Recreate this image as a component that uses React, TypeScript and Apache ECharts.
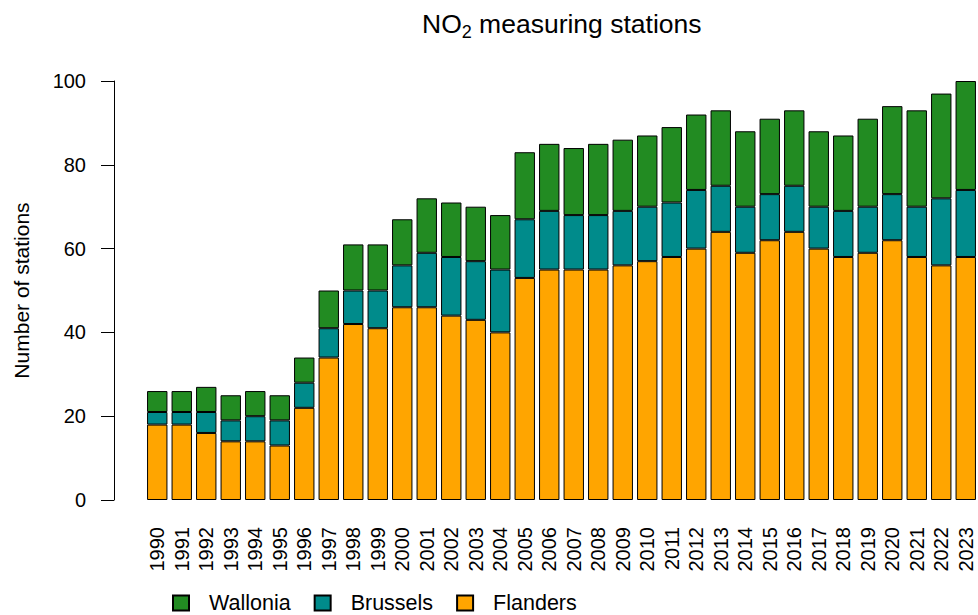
import React, { useEffect, useRef } from "react";
import * as echarts from "echarts";

const years = [
  "1990", "1991", "1992", "1993", "1994", "1995", "1996", "1997", "1998", "1999",
  "2000", "2001", "2002", "2003", "2004", "2005", "2006", "2007", "2008", "2009",
  "2010", "2011", "2012", "2013", "2014", "2015", "2016", "2017", "2018", "2019",
  "2020", "2021", "2022", "2023",
];
const flanders = [18, 18, 16, 14, 14, 13, 22, 34, 42, 41, 46, 46, 44, 43, 40, 53, 55, 55, 55, 56, 57, 58, 60, 64, 59, 62, 64, 60, 58, 59, 62, 58, 56, 58];
const brussels = [3, 3, 5, 5, 6, 6, 6, 7, 8, 9, 10, 13, 14, 14, 15, 14, 14, 13, 13, 13, 13, 13, 14, 11, 11, 11, 11, 10, 11, 11, 11, 12, 16, 16];
const wallonia = [5, 5, 6, 6, 6, 6, 6, 9, 11, 11, 11, 13, 13, 13, 13, 16, 16, 16, 17, 17, 17, 18, 18, 18, 18, 18, 18, 18, 18, 21, 21, 23, 25, 26];
const yTicks = { min: 0, max: 100, interval: 20 };

const FONT = "'Liberation Sans', Arial, sans-serif";

export default function App() {
  const ref = useRef<HTMLDivElement>(null);
  useEffect(() => {
    if (!ref.current) return;
    const chart = echarts.init(ref.current, null, { renderer: "svg" });
    const barStyle = (color: string) => ({
      color,
      borderColor: "#000",
      borderWidth: 1,
    });
    chart.setOption({
      animation: false,
      backgroundColor: "#fff",
      textStyle: { fontFamily: FONT, color: "#000" },
      title: {
        text: "NO{sub|2} measuring stations",
        left: 422,
        top: 7,
        padding: 0,
        textStyle: {
          fontFamily: FONT,
          fontWeight: "normal",
          fontSize: 26.5,
          lineHeight: 34,
          color: "#000",
          rich: {
            sub: { fontSize: 18, lineHeight: 18, verticalAlign: "bottom", fontFamily: FONT, color: "#000" },
          },
        },
      },
      legend: {
        data: ["Wallonia", "Brussels", "Flanders"],
        left: 172,
        top: 592,
        padding: 0,
        itemWidth: 16,
        itemHeight: 15,
        itemGap: 23,
        icon: "rect",
        textStyle: { fontFamily: FONT, fontSize: 21.5, lineHeight: 22, color: "#000", padding: [0, 0, 0, 15] },
      },
      grid: { left: 145, right: 0, top: 81, bottom: 115, containLabel: false },
      xAxis: {
        type: "category",
        data: years,
        axisLine: { show: false },
        axisTick: { show: false },
        axisLabel: { rotate: 90, margin: 27, fontSize: 20, color: "#000", fontFamily: FONT, interval: 0 },
      },
      yAxis: {
        type: "value",
        min: yTicks.min,
        max: yTicks.max,
        interval: yTicks.interval,
        offset: 31,
        name: "Number of stations",
        nameLocation: "middle",
        nameRotate: 90,
        nameGap: 82,
        nameTextStyle: { fontFamily: FONT, fontSize: 21, color: "#000" },
        axisLine: { show: true, lineStyle: { color: "#000", width: 1 } },
        axisTick: { show: true, length: 13, lineStyle: { color: "#000" } },
        axisLabel: { margin: 28, fontSize: 20, color: "#000", fontFamily: FONT },
        splitLine: { show: false },
      },
      series: [
        { name: "Flanders", type: "bar", stack: "total", barWidth: 20.4, data: flanders, itemStyle: barStyle("#FFA500") },
        { name: "Brussels", type: "bar", stack: "total", barWidth: 20.4, data: brussels, itemStyle: barStyle("#008B8B") },
        { name: "Wallonia", type: "bar", stack: "total", barWidth: 20.4, data: wallonia, itemStyle: barStyle("#228B22") },
      ],
    });
    return () => chart.dispose();
  }, []);
  return (
    <div
      ref={ref}
      style={{ position: "absolute", left: 0, top: 0, width: 978, height: 615 }}
    />
  );
}
